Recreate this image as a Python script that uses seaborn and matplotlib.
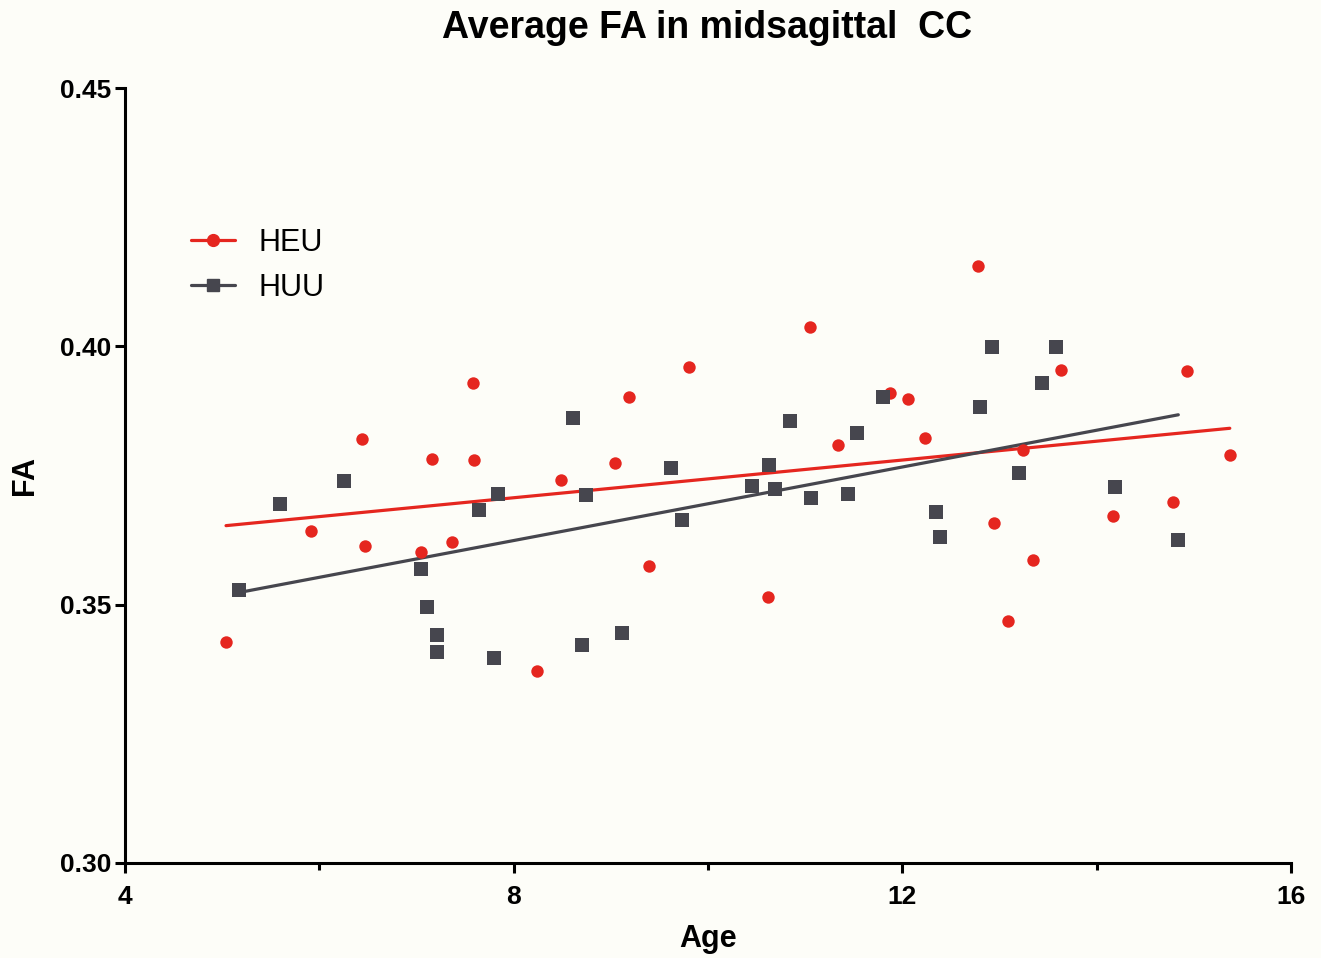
import numpy as np
import pandas as pd
import matplotlib
matplotlib.use("Agg")
import matplotlib.pyplot as plt
from matplotlib.lines import Line2D
from matplotlib.ticker import MultipleLocator
import seaborn as sns

heu_age = [5.04, 5.91, 6.44, 6.47, 7.05, 7.16, 7.37, 7.58, 7.59, 8.24, 8.49, 9.04, 9.19, 9.39,
           9.80, 10.62, 11.05, 11.34, 11.87, 12.06, 12.23, 12.78, 12.94, 13.09, 13.24, 13.34,
           13.63, 14.17, 14.79, 14.93, 15.37]
heu_fa = [0.3428, 0.3643, 0.3821, 0.3614, 0.3602, 0.3782, 0.3621, 0.3929, 0.3780, 0.3372,
          0.3741, 0.3774, 0.3902, 0.3575, 0.3960, 0.3515, 0.4037, 0.3809, 0.3910, 0.3898,
          0.3823, 0.4155, 0.3658, 0.3468, 0.3799, 0.3586, 0.3954, 0.3672, 0.3699, 0.3952, 0.3790]

huu_age = [5.17, 5.60, 6.25, 7.05, 7.11, 7.21, 7.21, 7.64, 7.80, 7.84, 8.61, 8.70, 8.74, 9.11,
           9.62, 9.73, 10.45, 10.63, 10.69, 10.84, 11.06, 11.44, 11.53, 11.80, 12.35, 12.39,
           12.80, 12.92, 13.20, 13.44, 13.58, 14.19, 14.84]
huu_fa = [0.3528, 0.3695, 0.3739, 0.3569, 0.3495, 0.3441, 0.3408, 0.3683, 0.3397, 0.3714,
          0.3861, 0.3422, 0.3712, 0.3445, 0.3765, 0.3664, 0.3730, 0.3770, 0.3724, 0.3855,
          0.3706, 0.3714, 0.3832, 0.3902, 0.3679, 0.3631, 0.3883, 0.3999, 0.3755, 0.3929,
          0.3999, 0.3728, 0.3625]

groups = ["HEU", "HUU"]
x_ticks = [4, 8, 12, 16]
y_ticks = [0.30, 0.35, 0.40, 0.45]

RED = "#E5261F"
GRAY = "#46464E"
BG = "#FDFDF8"

sns.set_style("ticks")
plt.rcParams["font.family"] = ["Liberation Sans", "DejaVu Sans"]
plt.rcParams["text.color"] = "black"
plt.rcParams["axes.labelcolor"] = "black"
plt.rcParams["xtick.color"] = "black"
plt.rcParams["ytick.color"] = "black"

fig = plt.figure(figsize=(13.21, 9.58), dpi=100, facecolor=BG)
ax = fig.add_axes([0.0946, 0.0992, 0.8827, 0.8089], facecolor=BG)

heu = pd.DataFrame({"Age": heu_age, "FA": heu_fa})
huu = pd.DataFrame({"Age": huu_age, "FA": huu_fa})

sns.regplot(data=heu, x="Age", y="FA", ax=ax, ci=None, color=RED, marker="o",
            scatter_kws=dict(s=80, linewidths=0, alpha=1, zorder=3),
            line_kws=dict(lw=2.3, zorder=2))
sns.regplot(data=huu, x="Age", y="FA", ax=ax, ci=None, color=GRAY, marker="s",
            scatter_kws=dict(s=95, linewidths=0, alpha=1, zorder=3),
            line_kws=dict(lw=2.3, zorder=2))

ax.set_xlim(4, 16)
ax.set_ylim(0.30, 0.45)
ax.set_xticks(x_ticks)
ax.set_xticklabels([str(t) for t in x_ticks])
ax.xaxis.set_minor_locator(MultipleLocator(2))
ax.set_yticks(y_ticks)
ax.set_yticklabels([f"{t:.2f}" for t in y_ticks])

for s in ["top", "right"]:
    ax.spines[s].set_visible(False)
for s in ["left", "bottom"]:
    ax.spines[s].set_linewidth(2.2)
    ax.spines[s].set_color("black")

ax.tick_params(axis="both", which="major", direction="out", length=7, width=2.2,
               labelsize=19, colors="black")
ax.tick_params(axis="x", which="major", pad=9)
ax.tick_params(axis="y", which="major", pad=3)
ax.tick_params(axis="x", which="minor", direction="out", length=5, width=2.2, colors="black")
for lab in ax.get_xticklabels() + ax.get_yticklabels():
    lab.set_fontweight("bold")

ax.set_xlabel("Age", fontsize=22, fontweight="bold", labelpad=11, color="black")
ax.set_ylabel("FA", fontsize=22, fontweight="bold", labelpad=14, color="black")
fig.text(0.535, 0.971, "Average FA in midsagittal  CC", ha="center", va="center",
         fontsize=27, fontweight="bold", color="black")

handles = [
    Line2D([0], [0], color=RED, lw=2.3, marker="o", markersize=8.5),
    Line2D([0], [0], color=GRAY, lw=2.3, marker="s", markersize=8.5),
]
leg = ax.legend(handles, groups, loc="upper left", bbox_to_anchor=(0.033, 0.855), frameon=False,
                fontsize=22, handlelength=1.45, handletextpad=0.75, labelspacing=0.5)
for t in leg.get_texts():
    t.set_color("black")

fig.savefig("out.png", dpi=100, facecolor=BG)
